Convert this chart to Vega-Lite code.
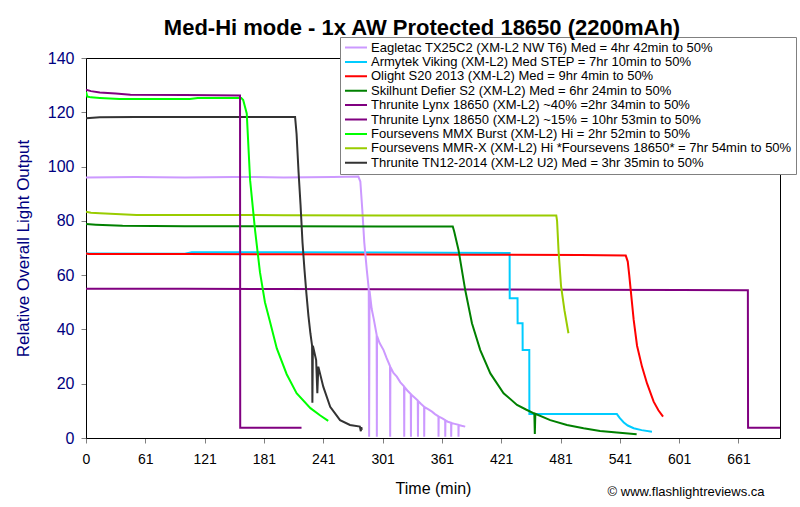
{
  "$schema": "https://vega.github.io/schema/vega-lite/v6.json",
  "width": 694,
  "height": 380,
  "autosize": {"type": "none"},
  "padding": {"left": 86, "top": 58, "right": 20, "bottom": 69},
  "background": "white",
  "config": {
    "font": "Liberation Sans",
    "view": {"stroke": "black", "strokeWidth": 1}
  },
  "title": {
    "text": "Med-Hi mode - 1x AW Protected 18650 (2200mAh)",
    "fontSize": 22,
    "fontWeight": "bold",
    "font": "Liberation Sans",
    "color": "black",
    "anchor": "middle",
    "dx": -11,
    "offset": -20,
    "baseline": "alphabetic"
  },
  "datasets": {
    "names": [
      {"k": "A", "name": "Eagletac TX25C2 (XM-L2 NW T6) Med = 4hr 42min to 50%"},
      {"k": "B", "name": "Armytek Viking (XM-L2) Med STEP = 7hr 10min to 50%"},
      {"k": "C", "name": "Olight S20 2013 (XM-L2) Med = 9hr 4min to 50%"},
      {"k": "D", "name": "Skilhunt Defier S2 (XM-L2) Med = 6hr 24min to 50%"},
      {"k": "E", "name": "Thrunite Lynx 18650 (XM-L2) ~40% =2hr 34min to 50%"},
      {"k": "F", "name": "Thrunite Lynx 18650 (XM-L2) ~15% = 10hr 53min to 50%"},
      {"k": "G", "name": "Foursevens MMX Burst (XM-L2) Hi = 2hr 52min to 50%"},
      {"k": "H", "name": "Foursevens MMR-X (XM-L2) Hi *Foursevens 18650* = 7hr 54min to 50%"},
      {"k": "I", "name": "Thrunite TN12-2014 (XM-L2 U2) Med = 3hr 35min to 50%"}
    ]
  },
  "layer": [
    {
      "data": {
        "values": [
          {"k": "F", "t": 0, "v": 55.0}, {"k": "F", "t": 100, "v": 55.0}, {"k": "F", "t": 200, "v": 54.9}, {"k": "F", "t": 300, "v": 54.8}, {"k": "F", "t": 400, "v": 54.7}, {"k": "F", "t": 500, "v": 54.6}, {"k": "F", "t": 600, "v": 54.5}, {"k": "F", "t": 669.5, "v": 54.4}, {"k": "F", "t": 669.7, "v": 3.8}, {"k": "F", "t": 702, "v": 3.8},

          {"k": "B", "t": 0, "v": 68.0}, {"k": "B", "t": 100, "v": 67.9}, {"k": "B", "t": 107, "v": 68.4}, {"k": "B", "t": 200, "v": 68.4}, {"k": "B", "t": 300, "v": 68.3}, {"k": "B", "t": 428.5, "v": 68.2}, {"k": "B", "t": 428.6, "v": 51.5}, {"k": "B", "t": 436.5, "v": 51.5}, {"k": "B", "t": 436.6, "v": 42.3}, {"k": "B", "t": 441.6, "v": 42.3}, {"k": "B", "t": 441.7, "v": 32.4}, {"k": "B", "t": 448.4, "v": 32.4}, {"k": "B", "t": 448.5, "v": 8.8}, {"k": "B", "t": 500, "v": 8.8}, {"k": "B", "t": 537, "v": 8.8}, {"k": "B", "t": 540, "v": 7.3}, {"k": "B", "t": 544, "v": 5.7}, {"k": "B", "t": 548, "v": 4.6}, {"k": "B", "t": 554, "v": 3.6}, {"k": "B", "t": 562, "v": 2.9}, {"k": "B", "t": 572.5, "v": 2.3},

          {"k": "C", "t": 0, "v": 68.0}, {"k": "C", "t": 3, "v": 67.8}, {"k": "C", "t": 100, "v": 67.8}, {"k": "C", "t": 200, "v": 67.7}, {"k": "C", "t": 300, "v": 67.6}, {"k": "C", "t": 400, "v": 67.5}, {"k": "C", "t": 500, "v": 67.4}, {"k": "C", "t": 546, "v": 67.2}, {"k": "C", "t": 548, "v": 65}, {"k": "C", "t": 549.5, "v": 60}, {"k": "C", "t": 551, "v": 54.5}, {"k": "C", "t": 554, "v": 43.5}, {"k": "C", "t": 557.4, "v": 34}, {"k": "C", "t": 562.4, "v": 26.3}, {"k": "C", "t": 567.5, "v": 20.1}, {"k": "C", "t": 574.2, "v": 13.4}, {"k": "C", "t": 579, "v": 10.2}, {"k": "C", "t": 583.7, "v": 7.9},

          {"k": "A", "t": 0, "v": 96.0}, {"k": "A", "t": 50, "v": 96.2}, {"k": "A", "t": 100, "v": 96.0}, {"k": "A", "t": 150, "v": 96.2}, {"k": "A", "t": 200, "v": 96.0}, {"k": "A", "t": 250, "v": 96.2}, {"k": "A", "t": 275.5, "v": 96.3}, {"k": "A", "t": 277.5, "v": 94.5}, {"k": "A", "t": 279.5, "v": 84}, {"k": "A", "t": 281.5, "v": 72}, {"k": "A", "t": 284, "v": 62}, {"k": "A", "t": 286, "v": 55}, {"k": "A", "t": 286.4, "v": 0.5}, {"k": "A", "t": 286.8, "v": 54.3}, {"k": "A", "t": 289, "v": 47.5}, {"k": "A", "t": 291, "v": 44}, {"k": "A", "t": 294, "v": 38}, {"k": "A", "t": 294.2, "v": 0.5}, {"k": "A", "t": 294.4, "v": 37.5}, {"k": "A", "t": 297, "v": 35}, {"k": "A", "t": 301, "v": 32.4}, {"k": "A", "t": 304, "v": 29.5}, {"k": "A", "t": 307.5, "v": 26.5}, {"k": "A", "t": 307.7, "v": 0.5}, {"k": "A", "t": 307.9, "v": 26.2}, {"k": "A", "t": 311, "v": 24}, {"k": "A", "t": 314.4, "v": 22.6}, {"k": "A", "t": 318, "v": 20.5}, {"k": "A", "t": 321.7, "v": 19}, {"k": "A", "t": 321.9, "v": 0.5}, {"k": "A", "t": 322.1, "v": 18.8}, {"k": "A", "t": 325, "v": 17.5}, {"k": "A", "t": 328.5, "v": 16.2}, {"k": "A", "t": 328.7, "v": 0.5}, {"k": "A", "t": 328.9, "v": 16}, {"k": "A", "t": 332, "v": 15}, {"k": "A", "t": 335.6, "v": 13.8}, {"k": "A", "t": 335.8, "v": 0.5}, {"k": "A", "t": 336, "v": 13.6}, {"k": "A", "t": 339, "v": 12.5}, {"k": "A", "t": 342, "v": 11.5}, {"k": "A", "t": 342.1, "v": 0.5}, {"k": "A", "t": 342.3, "v": 11.4}, {"k": "A", "t": 346, "v": 10.6}, {"k": "A", "t": 350, "v": 9.7}, {"k": "A", "t": 353, "v": 8.8}, {"k": "A", "t": 356.5, "v": 8.0}, {"k": "A", "t": 356.6, "v": 0.5}, {"k": "A", "t": 356.8, "v": 7.9}, {"k": "A", "t": 360, "v": 7.3}, {"k": "A", "t": 363.3, "v": 6.6}, {"k": "A", "t": 363.4, "v": 0.5}, {"k": "A", "t": 363.6, "v": 6.5}, {"k": "A", "t": 366, "v": 6.0}, {"k": "A", "t": 369.3, "v": 5.6}, {"k": "A", "t": 369.4, "v": 0.5}, {"k": "A", "t": 369.6, "v": 5.5}, {"k": "A", "t": 373, "v": 5.2}, {"k": "A", "t": 376.7, "v": 4.9}, {"k": "A", "t": 376.8, "v": 0.5}, {"k": "A", "t": 377, "v": 4.8}, {"k": "A", "t": 380, "v": 4.5}, {"k": "A", "t": 383.6, "v": 4.2},

          {"k": "D", "t": 0, "v": 78.8}, {"k": "D", "t": 10, "v": 78.6}, {"k": "D", "t": 37, "v": 78.2}, {"k": "D", "t": 100, "v": 78.0}, {"k": "D", "t": 200, "v": 78.0}, {"k": "D", "t": 300, "v": 77.9}, {"k": "D", "t": 371, "v": 77.9}, {"k": "D", "t": 372.5, "v": 76}, {"k": "D", "t": 376.8, "v": 69.3}, {"k": "D", "t": 383.6, "v": 54.5}, {"k": "D", "t": 390.4, "v": 42.3}, {"k": "D", "t": 398.8, "v": 32.4}, {"k": "D", "t": 409, "v": 23.8}, {"k": "D", "t": 422.4, "v": 16.5}, {"k": "D", "t": 436, "v": 12.2}, {"k": "D", "t": 445, "v": 10.5}, {"k": "D", "t": 453.5, "v": 9.0}, {"k": "D", "t": 454, "v": 1.5}, {"k": "D", "t": 454.5, "v": 8.9}, {"k": "D", "t": 469.6, "v": 6.6}, {"k": "D", "t": 486.5, "v": 4.8}, {"k": "D", "t": 503.3, "v": 3.6}, {"k": "D", "t": 520, "v": 2.6}, {"k": "D", "t": 537, "v": 2.0}, {"k": "D", "t": 557, "v": 1.4},

          {"k": "H", "t": 0, "v": 83.4}, {"k": "H", "t": 5, "v": 83.0}, {"k": "H", "t": 14, "v": 82.8}, {"k": "H", "t": 51, "v": 82.2}, {"k": "H", "t": 100, "v": 82.2}, {"k": "H", "t": 200, "v": 82.1}, {"k": "H", "t": 300, "v": 82.0}, {"k": "H", "t": 400, "v": 82.0}, {"k": "H", "t": 475.7, "v": 82.0}, {"k": "H", "t": 476.5, "v": 80}, {"k": "H", "t": 478, "v": 69}, {"k": "H", "t": 480.5, "v": 56}, {"k": "H", "t": 484, "v": 47}, {"k": "H", "t": 488, "v": 38.6},

          {"k": "I", "t": 0, "v": 117.8}, {"k": "I", "t": 14, "v": 118.2}, {"k": "I", "t": 50, "v": 118.3}, {"k": "I", "t": 100, "v": 118.3}, {"k": "I", "t": 150, "v": 118.3}, {"k": "I", "t": 211.5, "v": 118.3}, {"k": "I", "t": 213, "v": 112}, {"k": "I", "t": 215, "v": 98}, {"k": "I", "t": 217, "v": 86}, {"k": "I", "t": 219, "v": 72}, {"k": "I", "t": 221, "v": 62}, {"k": "I", "t": 223, "v": 53}, {"k": "I", "t": 225, "v": 45}, {"k": "I", "t": 227, "v": 38.5}, {"k": "I", "t": 228.7, "v": 34}, {"k": "I", "t": 229, "v": 13}, {"k": "I", "t": 229.5, "v": 34}, {"k": "I", "t": 232.8, "v": 28.7}, {"k": "I", "t": 234, "v": 16.5}, {"k": "I", "t": 235, "v": 26.3}, {"k": "I", "t": 240, "v": 18.9}, {"k": "I", "t": 247, "v": 11.5}, {"k": "I", "t": 257, "v": 6.6}, {"k": "I", "t": 267, "v": 4.8}, {"k": "I", "t": 277, "v": 4.2}, {"k": "I", "t": 278, "v": 2.5}, {"k": "I", "t": 278.5, "v": 4.0}, {"k": "I", "t": 279, "v": 3.0},

          {"k": "G", "t": 0, "v": 127.6}, {"k": "G", "t": 1.3, "v": 125.8}, {"k": "G", "t": 5, "v": 125.5}, {"k": "G", "t": 14, "v": 125.3}, {"k": "G", "t": 34, "v": 124.9}, {"k": "G", "t": 60, "v": 124.9}, {"k": "G", "t": 105, "v": 124.9}, {"k": "G", "t": 113, "v": 125.3}, {"k": "G", "t": 157, "v": 125.3}, {"k": "G", "t": 159, "v": 124.5}, {"k": "G", "t": 162.6, "v": 119.6}, {"k": "G", "t": 166, "v": 95}, {"k": "G", "t": 171, "v": 76.6}, {"k": "G", "t": 176, "v": 61}, {"k": "G", "t": 181, "v": 50}, {"k": "G", "t": 186, "v": 43}, {"k": "G", "t": 193, "v": 33}, {"k": "G", "t": 203, "v": 23.5}, {"k": "G", "t": 213, "v": 16.5}, {"k": "G", "t": 227, "v": 11}, {"k": "G", "t": 237, "v": 8.3}, {"k": "G", "t": 245, "v": 6.3},

          {"k": "E", "t": 0, "v": 128.3}, {"k": "E", "t": 5, "v": 127.8}, {"k": "E", "t": 14, "v": 127.3}, {"k": "E", "t": 30, "v": 126.9}, {"k": "E", "t": 45, "v": 126.5}, {"k": "E", "t": 100, "v": 126.4}, {"k": "E", "t": 155.8, "v": 126.2}, {"k": "E", "t": 156, "v": 3.8}, {"k": "E", "t": 218, "v": 3.8}
        ]
      },
      "transform": [
        {"lookup": "k", "from": {"data": {"name": "names"}, "key": "k", "fields": ["name"]}}
      ],
      "mark": {"type": "line", "strokeWidth": 2, "clip": true},
      "encoding": {
        "x": {
          "field": "t",
          "type": "quantitative",
          "scale": {"domain": [0, 702], "nice": false, "zero": false},
          "axis": {
            "title": "Time (min)",
            "titleFont": "Liberation Sans",
            "titleFontSize": 16,
            "titleFontWeight": "normal",
            "titleColor": "black",
            "titlePadding": 14,
            "values": [0, 30, 60, 90, 120, 150, 180, 210, 240, 270, 300, 330, 360, 390, 420, 450, 480, 510, 540, 570, 600, 630, 660, 690],
            "labelExpr": "datum.value % 60 == 0 ? (datum.value == 0 ? '0' : '' + (datum.value + 1)) : ''",
            "labelFont": "Liberation Sans",
            "labelFontSize": 14,
            "labelColor": "black",
            "labelPadding": 9,
            "labelFlush": false,
            "labelOverlap": false,
            "tickColor": "#808080",
            "tickSize": 5,
            "domainColor": "black",
            "grid": false
          }
        },
        "y": {
          "field": "v",
          "type": "quantitative",
          "scale": {"domain": [0, 140], "nice": false},
          "axis": {
            "title": "Relative Overall Light Output",
            "titleFont": "Liberation Sans",
            "titleFontSize": 17,
            "titleFontWeight": "normal",
            "titleColor": "#000080",
            "titlePadding": 15,
            "values": [0, 10, 20, 30, 40, 50, 60, 70, 80, 90, 100, 110, 120, 130, 140],
            "labelFont": "Liberation Sans",
            "labelFontSize": 16,
            "labelColor": "#000080",
            "labelPadding": 7,
            "labelFlush": false,
            "labelOverlap": false,
            "tickColor": "#808080",
            "tickSize": 5,
            "domainColor": "black",
            "grid": false
          }
        },
        "color": {
          "field": "name",
          "type": "nominal",
          "scale": {
            "domain": [
              "Eagletac TX25C2 (XM-L2 NW T6) Med = 4hr 42min to 50%",
              "Armytek Viking (XM-L2) Med STEP = 7hr 10min to 50%",
              "Olight S20 2013 (XM-L2) Med = 9hr 4min to 50%",
              "Skilhunt Defier S2 (XM-L2) Med = 6hr 24min to 50%",
              "Thrunite Lynx 18650 (XM-L2) ~40% =2hr 34min to 50%",
              "Thrunite Lynx 18650 (XM-L2) ~15% = 10hr 53min to 50%",
              "Foursevens MMX Burst (XM-L2) Hi = 2hr 52min to 50%",
              "Foursevens MMR-X (XM-L2) Hi *Foursevens 18650* = 7hr 54min to 50%",
              "Thrunite TN12-2014 (XM-L2 U2) Med = 3hr 35min to 50%"
            ],
            "range": ["#CC99FF", "#00CCFF", "#FF0000", "#008000", "#800080", "#800080", "#00FF00", "#99CC00", "#333333"]
          },
          "legend": {
            "title": null,
            "orient": "none",
            "legendX": 254,
            "legendY": -21,
            "direction": "vertical",
            "columns": 1,
            "fillColor": "white",
            "strokeColor": "#808080",
            "padding": 4,
            "symbolType": "stroke",
            "symbolSize": 484,
            "symbolStrokeWidth": 2,
            "clipHeight": 13,
            "rowPadding": 0.4,
            "labelFont": "Liberation Sans",
            "labelFontSize": 13,
            "labelColor": "black",
            "labelLimit": 0,
            "labelOffset": 3
          }
        },
        "order": {"value": null}
      }
    },
    {
      "data": {"values": [{}]},
      "mark": {"type": "text", "font": "Liberation Sans", "fontSize": 13, "color": "black", "align": "center", "baseline": "middle"},
      "encoding": {
        "x": {"datum": 607, "type": "quantitative"},
        "y": {"datum": -20, "type": "quantitative"},
        "text": {"value": "© www.flashlightreviews.ca"}
      }
    }
  ]
}
